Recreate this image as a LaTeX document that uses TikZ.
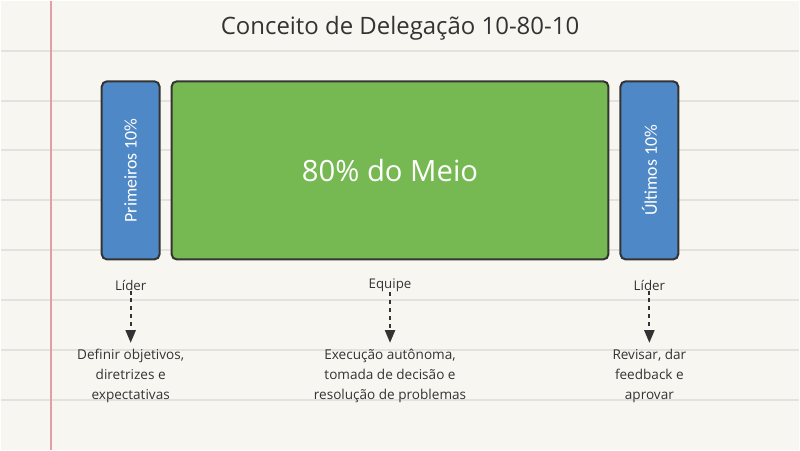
\documentclass[tikz,border=0pt]{standalone}
\usepackage{fontspec}
\setmainfont{Open Sans}
\newfontfamily\boxfont{Carlito}
\definecolor{mypaper}{RGB}{248,246,241}
\definecolor{myruling}{RGB}{228,226,222}
\definecolor{mymargin}{RGB}{224,160,166}
\definecolor{myblue}{RGB}{78,136,199}
\definecolor{mygreen}{RGB}{118,184,82}
\definecolor{myink}{RGB}{51,51,51}
\usetikzlibrary{arrows.meta,positioning}

\begin{document}
\begin{tikzpicture}[
  x=0.75pt, y=-0.75pt,
  ruled/.style={draw=myruling, line width=1.5pt},
  margin/.style={draw=mymargin, line width=1.2pt},
  part/.style={
    draw=myink,
    line width=1.5pt,
    rounded corners=4pt,
    minimum height=134pt,
    inner sep=0pt,
    text=white
    },
  sidepart/.style={part, fill=myblue, minimum width=43.5pt, font=\boxfont\fontsize{13.4}{15}\selectfont},
  midpart/.style={part, fill=mygreen, minimum width=328.5pt, font=\fontsize{22}{26}\selectfont},
  role/.style={text=myink, font=\fontsize{10}{12}\selectfont, inner sep=1pt},
  task/.style={text=myink, align=center, font=\fontsize{10.2}{15}\selectfont, inner sep=1pt},
  flow/.style={draw=myink, line width=1.5pt, dashed, shorten <=-1pt, shorten >=3.5pt, -{Triangle[width=7.5pt,length=9.5pt]}}
]

% paper
\fill[mypaper] (0,0) rectangle (800,450);
\foreach \y in {50,100,...,400}
  \draw[ruled] (0,\y) -- (800,\y);
\draw[margin] (50,0) -- (50,450);

\node[text=myink, font=\fontsize{18}{22}\selectfont] (title) at (400,28) {Conceito de Delegação 10-80-10};

% the three parts
\node[sidepart] (first) at (130,170) {\rotatebox{90}{Primeiros 10\%}};
\node[midpart] (middle) at (390,170) {80\% do Meio};
\node[sidepart] (last) at (650,170) {\rotatebox{90}{Últimos 10\%}};

% who does what
\foreach \x/\who/\what [count=\i from 1] in {
    130/Líder/{Definir objetivos,\\diretrizes e\\expectativas},
    390/Equipe/{Execução autônoma,\\tomada de decisão e\\resolução de problemas},
    650/Líder/{Revisar, dar\\feedback e\\aprovar}}
{
  \node[role] (who\i) at (\x,285) {\who};
  \node[task] (what\i) at (\x,376) {\what};
  \draw[flow] (who\i) -- (what\i);
}

\end{tikzpicture}
\end{document}
